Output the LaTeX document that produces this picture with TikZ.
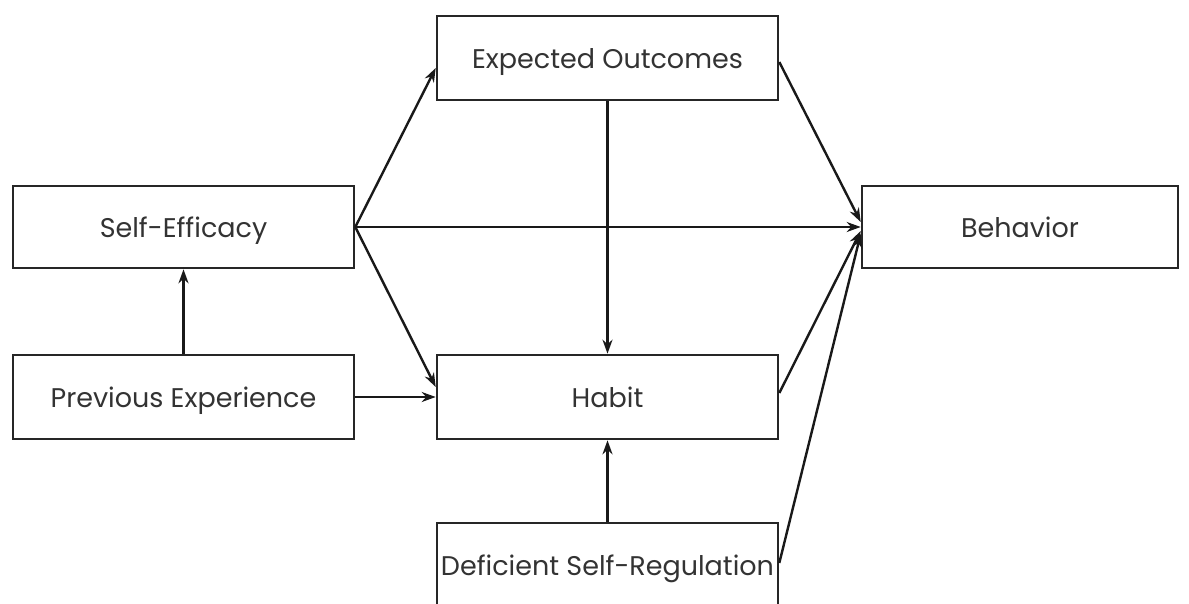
\documentclass[tikz,border=0pt]{standalone}
\usepackage{fontspec}
\setmainfont{Poppins}
\usetikzlibrary{arrows.meta,calc}
\begin{document}
\begin{tikzpicture}[x=1pt,y=-1pt,
  box/.style={draw=black!85,line width=2.6pt,rectangle,inner sep=0pt,
    minimum width=341pt,minimum height=84pt,text height=20pt,text depth=0pt,
    font=\fontsize{27}{32}\selectfont,text=black!80},
  link/.style={draw=black!90,line width=2.4pt,-{Stealth[length=14pt,width=10pt]}}]
  \clip (0,0) rectangle (1189,603);
  \fill[white] (0,0) rectangle (1189,603);
  % model boxes
  \node[box] (EO)  at (607.5,58)  {Expected Outcomes};
  \node[box,minimum height=82pt] (SE) at (183.5,227) {Self-Efficacy};
  \node[box,minimum width=316pt,minimum height=82pt] (B) at (1020,227) {Behavior};
  \node[box] (PE)  at (183.5,397) {Previous Experience};
  \node[box] (H)   at (607.5,397) {Habit};
  \node[box] (DSR) at (607.5,565) {Deficient Self-Regulation};
  % paths
  \draw[link] (SE.east) -- ($(EO.west)+(0,10)$);
  \draw[link] (SE.east) -- (B.west);
  \draw[link] (SE.east) -- ($(H.west)+(0,-10)$);
  \draw[link] ($(EO.east)+(0,4)$) -- ($(B.west)+(0,-5)$);
  \draw[link] (EO.south) -- (H.north);
  \draw[link] (PE.north) -- (SE.south);
  \draw[link] (PE.east) -- (H.west);
  \draw[link] ($(H.east)+(0,-4)$) -- ($(B.west)+(0,4)$);
  \draw[link] (DSR.north) -- (H.south);
  \draw[link] ($(DSR.east)+(0,-2)$) -- ($(B.west)+(0,7)$);
\end{tikzpicture}
\end{document}
